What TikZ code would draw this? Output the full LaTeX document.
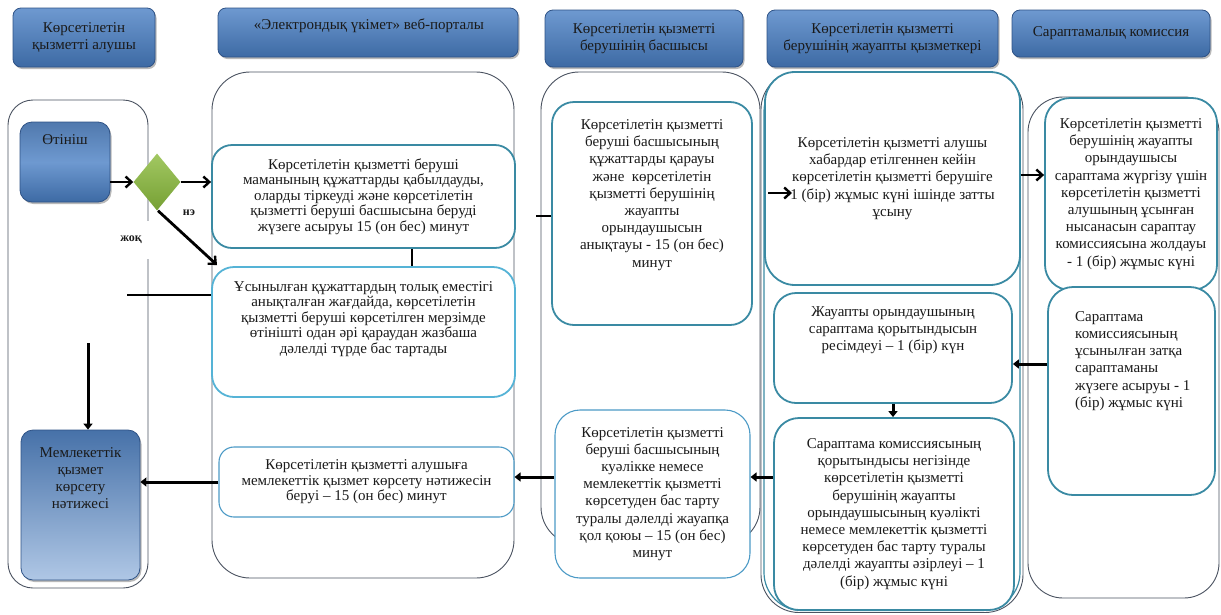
\documentclass[tikz,border=0pt]{standalone}
\usepackage{fontspec}
\setmainfont{Liberation Serif}
\usetikzlibrary{shapes.geometric,shadows,arrows.meta}
\definecolor{hdrtop}{HTML}{6E99D0}
\definecolor{hdrbot}{HTML}{3D6AA4}
\definecolor{hdrline}{HTML}{2E5286}
\definecolor{tealb}{HTML}{3A8AA3}
\definecolor{lightb}{HTML}{55B3D6}
\definecolor{midb}{HTML}{4C9AC6}
\definecolor{lanegray}{HTML}{4A5260}
\definecolor{txtc}{HTML}{1A1A1A}
\definecolor{dgtop}{HTML}{A2C862}
\definecolor{dgbot}{HTML}{76A034}
\newcommand\fsA{\fontsize{15}{17.2}\selectfont}
\newcommand\fsB{\fontsize{15}{15.6}\selectfont}
\tikzset{
  hdr/.style={rectangle, rounded corners=8pt, draw=hdrline, line width=0.8pt,
    top color=hdrtop, bottom color=hdrbot, inner sep=0pt,
    drop shadow={shadow xshift=1.5pt, shadow yshift=-2pt, fill=black!55},
    align=center, text=txtc, font=\fsA},
  lanebox/.style={rectangle, rounded corners=38pt, draw=lanegray, line width=0.9pt, inner sep=0pt},
  cbox/.style={rectangle, rounded corners=22pt, draw=tealb, line width=1.8pt, fill=white,
    align=center, text=txtc, font=\fsA, inner sep=0pt},
  txt/.style={align=center, text=txtc, font=\fsA, inner sep=0pt},
  bluebox/.style={rectangle, rounded corners=12pt, draw=hdrline, line width=0.8pt, inner sep=0pt,
    drop shadow={shadow xshift=1.5pt, shadow yshift=-2pt, fill=black!55}},
  arrO/.style={line width=2.8pt, -{Straight Barb[length=6pt,width=11pt,line width=2.4pt]}},
  arrF/.style={line width=3pt, -{Triangle[length=6pt,width=9pt]}},
  plain/.style={line width=2.8pt},
  lbl/.style={font=\fontsize{12}{13}\selectfont\bfseries, text=txtc, inner sep=1pt}
}
\begin{document}
\begin{tikzpicture}[x=1pt,y=-1pt]
\useasboundingbox (0,0) rectangle (1221,614);
% headers
\node[hdr, minimum width=142, minimum height=59] (h1) at (84,37.5) {Көрсетілетін\\қызметті алушы};
\node[hdr, minimum width=300, minimum height=49] (h2) at (368,32.5) {};
\node[txt] (h2t) at (369,26) {«Электрондық үкімет» веб-порталы};
\node[hdr, minimum width=198, minimum height=57] (h3) at (644,38.5) {Көрсетілетін қызметті\\берушінің басшысы};
\node[hdr, minimum width=231, minimum height=57] (h4) at (882.5,38.5) {Көрсетілетін қызметті\\берушінің жауапты қызметкері};
\node[hdr, minimum width=198, minimum height=47] (h5) at (1111,33.5) {Сараптамалық комиссия};
% lanes
\node[lanebox, rounded corners=25pt, minimum width=140, minimum height=488] (lane1) at (78,344) {};
\node[lanebox, minimum width=302, minimum height=506] (lane2) at (363,325) {};
\node[lanebox, minimum width=219, minimum height=473] (lane3) at (650.5,308.5) {};
\node[lanebox, draw=lanegray, line width=0.9pt, minimum width=262, minimum height=541] (lane4b) at (892,342) {};
\node[lanebox, draw=tealb, line width=1.2pt, minimum width=256, minimum height=537] (lane4) at (892,342) {};
\node[lanebox, rounded corners=35pt, minimum width=191, minimum height=501] (lane5) at (1123.5,347.5) {};
% start / result
\node[bluebox, top color=hdrbot!90!white, bottom color=hdrbot, middle color=hdrtop,
  minimum width=90, minimum height=80] (otin) at (65,162) {};
\node[txt] (otint) at (65,140) {Өтініш};
\node[bluebox, top color=hdrbot!95!white, bottom color=hdrtop!55!white,
  minimum width=119, minimum height=150] (res) at (80.5,505) {};
\node[txt] (rest) at (80.5,478) {Мемлекеттік\\қызмет\\көрсету\\нәтижесі};
% diamond
\node[diamond, top color=dgtop, bottom color=dgbot, inner sep=0pt,
  minimum width=47, minimum height=57] (dia) at (157,182) {};
% content boxes
\node[cbox, rounded corners=20pt, font=\fsB, minimum width=303, minimum height=103] (b1) at (363.5,196.5)
  {Көрсетілетін қызметті беруші\\маманының құжаттарды қабылдауды,\\оларды тіркеуді және көрсетілетін\\қызметті беруші басшысына беруді\\жүзеге асыруы 15 (он бес) минут};
\node[cbox, draw=lightb, minimum width=303, minimum height=130] (b2) at (363.5,332) {};
\node[txt, font=\fsB] (b2t) at (363.5,319)
  {Ұсынылған құжаттардың толық еместігі\\анықталған жағдайда, көрсетілетін\\қызметті беруші көрсетілген мерзімде\\өтінішті одан әрі қараудан жазбаша\\дәлелді түрде бас тартады};
\node[cbox, draw=midb, line width=1.1pt, rounded corners=15pt, font=\fsB, minimum width=295, minimum height=70] (b3) at (366.5,482)
  {Көрсетілетін қызметті алушыға\\мемлекеттік қызмет көрсету нәтижесін\\беруі – 15 (он бес) минут};
\node[cbox, minimum width=200, minimum height=223] (b4) at (652,213.5) {};
\node[txt] (b4t) at (652,195)
  {Көрсетілетін қызметті\\беруші басшысының\\құжаттарды қарауы\\және\ \ көрсетілетін\\қызметті берушінің\\жауапты\\орындаушысын\\анықтауы - 15 (он бес)\\минут};
\node[cbox, draw=midb, line width=1.1pt, rounded corners=25pt, minimum width=195, minimum height=168] (b5) at (652.5,494)
  {Көрсетілетін қызметті\\беруші басшысының\\куәлікке немесе\\мемлекеттік қызметті\\көрсетуден бас тарту\\туралы дәлелді жауапқа\\қол қоюы – 15 (он бес)\\минут};
\node[cbox, rounded corners=30pt, minimum width=255, minimum height=213] (b6) at (892.5,178.5)
  {Көрсетілетін қызметті алушы\\хабардар етілгеннен кейін\\көрсетілетін қызметті берушіге\\1 (бір) жұмыс күні ішінде затты\\ұсыну};
\node[cbox, minimum width=238, minimum height=110] (b7) at (893,348) {};
\node[txt] (b7t) at (893,330)
  {Жауапты орындаушының\\сараптама қорытындысын\\ресімдеуі – 1 (бір) күн};
\node[cbox, rounded corners=25pt, minimum width=240, minimum height=192] (b8) at (894,514)
  {Сараптама комиссиясының\\қорытындысы негізінде\\көрсетілетін қызметті\\берушінің жауапты\\орындаушысының куәлікті\\немесе мемлекеттік қызметті\\көрсетуден бас тарту туралы\\дәлелді жауапты әзірлеуі – 1\\(бір) жұмыс күні};
\node[cbox, rounded corners=25pt, minimum width=172, minimum height=192] (b9) at (1131,194)
  {Көрсетілетін қызметті\\берушінің жауапты\\орындаушысы\\сараптама жүргізу үшін\\көрсетілетін қызметті\\алушының ұсынған\\нысанасын сараптау\\комиссиясына жолдауы\\- 1 (бір) жұмыс күні};
\node[cbox, rounded corners=25pt, minimum width=167, minimum height=208] (b10) at (1131.5,391) {};
\node[txt, align=left, anchor=west] (b10t) at (1075,361)
  {Сараптама\\комиссиясының\\ұсынылған затқа\\сараптаманы\\жүзеге асыруы - 1\\(бір) жұмыс күні};
% labels
\node[lbl] (ne) at (189,213) {нэ};
\node[lbl, fill=white, minimum width=36, minimum height=38] (zhok) at (131,240) {жоқ};
% helper coordinates
\coordinate (neTip) at (217,265);
\coordinate (vx) at (412,0);
\coordinate (hl) at (127,295);
\coordinate (dn) at (88,343);
\coordinate (stub) at (536,216);
\coordinate (a6s) at (768,193);
\coordinate (a6e) at (792,193);
\coordinate (y175) at (0,175);
\coordinate (y364) at (0,364);
\coordinate (y477) at (0,477);
% connectors
\draw[arrO] (otin.east |- dia.west) -- (dia.west);
\draw[arrO] (dia.east) -- (b1.west |- dia.east);
\draw[arrO] ([xshift=1pt]dia.south) -- (neTip);
\draw[plain] (b1.south -| vx) -- (b2.north -| vx);
\draw[plain] (hl) -- (b2.west |- hl);
\draw[arrF] (dn) -- (res.north -| dn);
\draw[plain] (stub) -- (b4.west |- stub);
\draw[arrO] (a6s) -- (a6e);
\draw[arrO] (b6.east |- y175) -- (b9.west |- y175);
\draw[arrF] (b10.west |- y364) -- (b7.east |- y364);
\draw[arrF] (b7.south) -- (b8.north -| b7.south);
\draw[arrF] (b8.west |- y477) -- (b5.east |- y477);
\draw[arrF] (b5.west |- y477) -- (b3.east |- y477);
\draw[arrF] (b3.west) -- (res.east |- b3.west);
\end{tikzpicture}
\end{document}
